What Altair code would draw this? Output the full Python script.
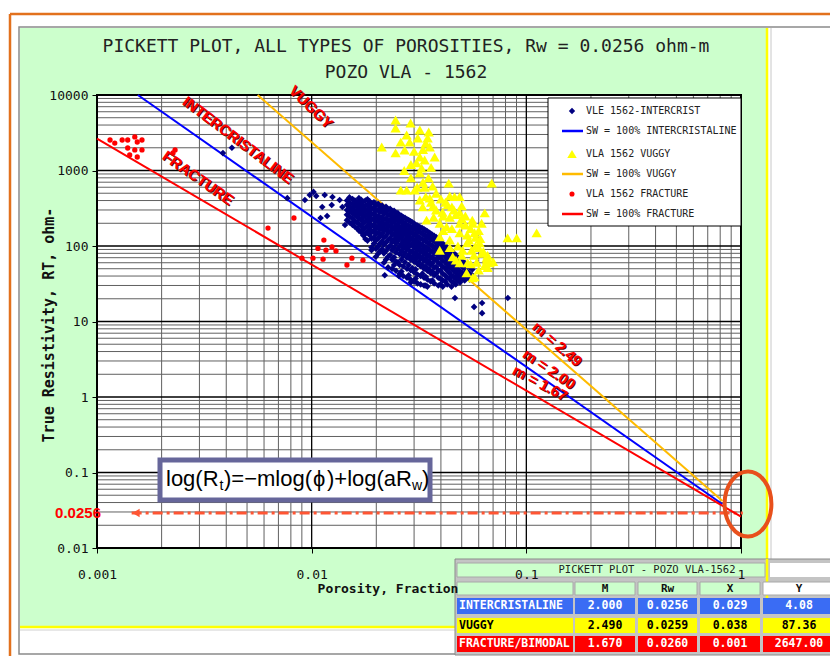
import altair as alt
import pandas as pd

# ---------------- texts ----------------
TITLE_1 = "PICKETT PLOT, ALL TYPES OF POROSITIES, Rw = 0.0256 ohm-m"
TITLE_2 = "POZO VLA - 1562"
X_TITLE = "Porosity, Fraction"
Y_TITLE = "True Resistivity, RT, ohm-"

# ---------------- axes / grid ----------------
x_ticks = [0.001, 0.01, 0.1, 1]
y_ticks = [0.01, 0.1, 1, 10, 100, 1000, 10000]
minor_mult = [2, 3, 4, 5, 6, 7, 8, 9]

# ---------------- Sw = 100% lines (end points) ----------------
intercrist_line_phi = [0.00155, 0.82]
intercrist_line_rt = [10000, 0.038]
vuggy_line_phi = [0.0056, 0.82]
vuggy_line_rt = [10000, 0.042]
fracture_line_phi = [0.001, 1.0]
fracture_line_rt = [2650, 0.026]
rw_line_phi = [0.00145, 1.02]
rw_line_rt = [0.029, 0.029]

# ---------------- VLE 1562-INTERCRIST (porosity column -> Rt values) ----------------
navy_columns = {
    0.0146: [400, 350, 300, 260, 220],
    0.0155: [420, 360, 310, 270, 230, 190],
    0.0163: [380, 330, 285, 245, 205, 170],
    0.0170: [410, 350, 300, 262, 222, 182, 152],
    0.0178: [400, 342, 292, 250, 212, 176, 146, 124],
    0.0186: [392, 333, 282, 240, 202, 166, 140],
    0.0195: [380, 322, 272, 232, 192, 160, 131, 108],
    0.0204: [362, 302, 252, 212, 181, 151, 126, 99, 79],
    0.0213: [342, 291, 242, 206, 176, 146, 116, 91],
    0.0222: [331, 281, 231, 196, 166, 136, 111, 86, 66],
    0.0232: [311, 262, 221, 186, 156, 126, 101, 76],
    0.0242: [292, 246, 211, 176, 146, 121, 96, 71, 56],
    0.0252: [272, 231, 196, 166, 141, 116, 91, 61],
    0.0262: [251, 216, 181, 156, 131, 106, 86, 66, 46],
    0.0272: [236, 201, 171, 146, 121, 101, 81, 61],
    0.0283: [221, 186, 161, 136, 116, 96, 76, 56, 41],
    0.0294: [206, 176, 151, 126, 106, 86, 71, 51],
    0.0305: [191, 166, 141, 119, 99, 81, 66, 49, 37],
    0.0316: [181, 156, 131, 111, 93, 76, 61],
    0.0328: [171, 146, 123, 104, 87, 71, 56, 43],
    0.0340: [161, 136, 116, 97, 81, 67, 53, 39],
    0.0352: [151, 129, 109, 91, 76, 63, 49],
    0.0365: [141, 121, 101, 86, 71, 59, 46, 35],
    0.0380: [131, 111, 93, 79, 66, 53, 43],
    0.0398: [116, 99, 83, 69, 57, 47, 37, 31],
    0.0418: [101, 86, 73, 61, 51, 41, 34],
    0.0438: [91, 76, 64, 53, 44, 37],
    0.0458: [81, 67, 56, 47, 39, 33],
    0.0480: [71, 59, 49, 41, 35],
    0.0503: [63, 53, 44, 37],
    0.0530: [56, 46, 39],
    0.0560: [49, 41],
}
navy_columns_b = {
    0.0150: [440, 380, 330, 285, 245, 205],
    0.0159: [400, 345, 295, 255, 215, 180],
    0.0166: [430, 370, 315, 272, 232, 195, 160],
    0.0174: [385, 325, 280, 240, 200, 165, 138],
    0.0182: [415, 355, 305, 262, 222, 186, 155, 118],
    0.0190: [365, 310, 262, 222, 182, 152, 125, 96],
    0.0199: [350, 295, 250, 212, 175, 145, 118, 92, 72],
    0.0208: [330, 280, 232, 196, 166, 136, 108, 85],
    0.0217: [315, 268, 225, 190, 160, 130, 104, 80, 60],
    0.0227: [300, 255, 212, 180, 150, 120, 95, 72, 52],
    0.0237: [285, 240, 202, 170, 140, 112, 88, 66, 50],
    0.0247: [268, 226, 190, 160, 132, 108, 82, 62, 47],
    0.0257: [255, 212, 178, 150, 125, 100, 78, 56, 43],
    0.0267: [240, 198, 166, 140, 116, 94, 74, 54, 40],
    0.0278: [225, 188, 158, 132, 110, 90, 70, 50, 38],
    0.0289: [212, 178, 148, 124, 103, 84, 66, 48, 36],
    0.0300: [198, 168, 140, 116, 96, 78, 62, 45, 34],
    0.0311: [186, 158, 132, 108, 90, 73, 58, 42, 32],
    0.0322: [176, 150, 125, 102, 84, 68, 54, 40, 31],
    0.0334: [166, 140, 118, 96, 79, 64, 50, 38, 30],
    0.0346: [156, 132, 111, 91, 74, 60, 47, 36, 29],
    0.0358: [146, 124, 104, 86, 70, 56, 44, 34],
    0.0372: [136, 116, 97, 80, 66, 52, 41, 32],
    0.0389: [124, 105, 88, 73, 60, 48, 38, 30],
    0.0408: [108, 92, 77, 64, 53, 43, 35, 29],
    0.0428: [96, 81, 68, 57, 47, 38, 31],
    0.0448: [86, 72, 60, 50, 41, 34, 29],
    0.0469: [76, 63, 52, 44, 37, 31],
    0.0491: [66, 56, 46, 39, 33],
    0.0516: [60, 50, 42, 35],
    0.0545: [52, 43, 36],
}
navy_extra_phi = [0.00386, 0.00425, 0.0077, 0.0093, 0.0098, 0.0102, 0.0105, 0.0115,
                  0.0125, 0.0124, 0.0112, 0.0118, 0.0110, 0.0135, 0.0139, 0.0154,
                  0.0143, 0.0155, 0.0190, 0.0219, 0.0465, 0.0571, 0.0622, 0.0622,
                  0.0820, 0.0255, 0.0290, 0.0340]
navy_extra_rt = [1700, 2000, 430, 406, 473, 520, 460, 473,
                 446, 349, 329, 250, 235, 406, 329, 282,
                 190, 202, 88, 41, 20.5, 15.6, 17.6, 12.9,
                 20.5, 40, 33, 30]

# ---------------- VLA 1562 VUGGY ----------------
vuggy_phi = [0.0246, 0.0289, 0.0319, 0.0351, 0.0246, 0.0277, 0.0260, 0.0286, 0.0312, 0.0347,
             0.0212, 0.0246, 0.0271, 0.0355, 0.0374, 0.0319, 0.0336, 0.0308, 0.0325, 0.0319,
             0.0435, 0.0690, 0.0260, 0.0277, 0.0302, 0.0336, 0.0366, 0.0440, 0.0463, 0.0489,
             0.0319, 0.0355, 0.0329, 0.0366, 0.0407, 0.0440, 0.0489, 0.0640, 0.0562, 0.0619,
             0.0343, 0.0395, 0.0425, 0.0489, 0.0574, 0.0818, 0.0902, 0.1117, 0.0606, 0.0395,
             0.0440, 0.0395, 0.0454, 0.0505, 0.0556, 0.0654, 0.0489, 0.0533, 0.0587, 0.0675,
             0.0527, 0.0574, 0.0562, 0.0654, 0.0350, 0.0330, 0.0380, 0.0420, 0.0450, 0.0470,
             0.0500, 0.0520, 0.0550, 0.0580, 0.0600, 0.0620, 0.0480, 0.0530, 0.0570, 0.0640,
             0.0470, 0.0410, 0.0370, 0.0500, 0.0300, 0.0290, 0.0330, 0.0340, 0.0360,
             0.0400, 0.0430, 0.0460, 0.0520, 0.0560, 0.0600, 0.0540, 0.0580, 0.0630, 0.0660,
             0.0450, 0.0490, 0.0530, 0.0610, 0.0380, 0.0360, 0.0340, 0.0310, 0.0290, 0.0270,
             0.0410, 0.0440, 0.0500, 0.0550, 0.0600, 0.0660, 0.0700]
vuggy_rt = [4670, 4260, 3440, 3240, 3650, 2950, 2380, 2380, 2690, 2690,
            2050, 1710, 1870, 2050, 1510, 1510, 1380, 1260, 1080, 930,
            680, 680, 550, 550, 550, 600, 620, 460, 450, 450,
            406, 430, 330, 330, 280, 240, 280, 275, 200, 200,
            220, 200, 180, 150, 150, 128, 128, 149, 110, 132,
            120, 88, 72, 88, 88, 70, 60, 60, 61, 60,
            44, 39, 38, 65, 800, 700, 500, 380, 330, 260,
            230, 190, 170, 130, 95, 80, 100, 110, 75, 55,
            65, 160, 240, 340, 1800, 1200, 1900, 2300, 1100,
            420, 350, 300, 250, 220, 160, 120, 100, 85, 75,
            170, 200, 140, 125, 300, 380, 450, 600, 800, 1000,
            250, 95, 75, 58, 48, 52, 62]

# ---------------- VLA 1562 FRACTURE ----------------
fracture_phi = [0.00115, 0.00121, 0.00131, 0.00139, 0.00150, 0.00162, 0.00154, 0.00139, 0.00150,
                0.00162, 0.00142, 0.00154, 0.00231, 0.00226, 0.00827, 0.00626, 0.0114, 0.0107,
                0.01166, 0.01243, 0.01298, 0.00901, 0.01014, 0.0113, 0.0146, 0.0154, 0.01734]
fracture_rt = [2535, 2310, 2535, 2535, 2780, 2535, 2385, 1985, 1870,
               1870, 1604, 1510, 1870, 1706, 235, 173, 120, 93,
               88, 97, 86, 69, 69, 67, 56, 69, 65]

# ---------------- legend & table ----------------
legend_labels = ["VLE 1562-INTERCRIST", "SW = 100% INTERCRISTALINE", "VLA 1562 VUGGY",
                 "SW = 100% VUGGY", "VLA 1562 FRACTURE", "SW = 100% FRACTURE"]
table_title = "PICKETT PLOT - POZO VLA-1562"
table_header = ["", "M", "Rw", "X", "Y"]
table_rows = ["INTERCRISTALINE", "VUGGY", "FRACTURE/BIMODAL"]
table_m = [2.000, 2.490, 1.670]
table_rw = [0.0256, 0.0259, 0.0260]
table_x = [0.029, 0.038, 0.001]
table_y = [4.08, 87.36, 2647.00]

# ================= chart =================
OX, OY = 97, 95          # page position of plot-area origin
W, H = 644, 453
one = pd.DataFrame({"k": [0]})

MONO = "DejaVu Sans Mono"
SANS = "Liberation Sans"

xs = alt.Scale(type="log", domain=[0.001, 1], nice=False)
ys = alt.Scale(type="log", domain=[0.01, 10000], nice=False)
xaxis = alt.Axis(values=x_ticks, labelExpr="format(datum.value, datum.value >= 1 ? 'd' : '~g')",
                 title=None, grid=False, domain=False, ticks=True, tickSize=5, tickColor="#000",
                 labelFont=MONO, labelFontSize=13, labelColor="#111", labelPadding=15,
                 labelFlush=False, labelOverlap=False, zindex=1)
yaxis = alt.Axis(values=y_ticks, labelExpr="format(datum.value, datum.value >= 1 ? 'd' : '~g')",
                 title=None, grid=False, domain=False, ticks=True, tickSize=5, tickColor="#000",
                 labelFont=MONO, labelFontSize=13, labelColor="#111", labelPadding=4,
                 labelFlush=False, labelOverlap=False, zindex=1)


def hline(x1, x2, y, color, w):
    return alt.Chart(one).mark_rule(color=color, strokeWidth=w).encode(
        x=alt.value(x1 - OX), x2=alt.value(x2 - OX), y=alt.value(y - OY))


def vline(x, y1, y2, color, w):
    return alt.Chart(one).mark_rule(color=color, strokeWidth=w).encode(
        x=alt.value(x - OX), y=alt.value(y1 - OY), y2=alt.value(y2 - OY))


def box(x1, y1, x2, y2, fill=None, stroke=None, sw=1):
    kw = {}
    if fill:
        kw["fill"] = fill
    else:
        kw["fillOpacity"] = 0
    if stroke:
        kw["stroke"] = stroke
        kw["strokeWidth"] = sw
    return alt.Chart(one).mark_rect(**kw).encode(
        x=alt.value(x1 - OX), x2=alt.value(x2 - OX), y=alt.value(y1 - OY), y2=alt.value(y2 - OY))


def label(s, x, y, size, color="#000", font=MONO, weight="normal", align="center", angle=0):
    return alt.Chart(one).mark_text(text=s, fontSize=size, color=color, font=font, fontWeight=weight,
                                    align=align, baseline="middle", angle=angle).encode(
        x=alt.value(x - OX), y=alt.value(y - OY))


def symbol(shape, x, y, size, color, filled=True, sw=1):
    return alt.Chart(one).mark_point(shape=shape, size=size, filled=filled, color=color, opacity=1,
                                     strokeWidth=sw).encode(x=alt.value(x - OX), y=alt.value(y - OY))


layers = []
# page frame
layers += [box(19, 27, 850, 654, fill="#ffffff", stroke="#8a8a8a", sw=1.5),
           box(20, 28, 766, 626, fill="#ccffcc"),
           vline(767, 28, 628, "#ffff00", 2.5), hline(20, 767, 627, "#ffff00", 2.5),
           vline(771, 28, 654, "#c8c8c8", 1), hline(20, 771, 630, "#d0d0d0", 1),
           hline(10, 840, 14, "#e2711d", 2.5), vline(10, 14, 670, "#e2711d", 2.5),
           box(OX, OY, OX + W, OY + H, fill="#ffffff")]

# grid
minor_x = [m * d for d in x_ticks[:-1] for m in minor_mult]
minor_y = [m * d for d in y_ticks[:-1] for m in minor_mult]
layers.append(alt.Chart(pd.DataFrame({"phi": minor_x})).mark_rule(color="#606060", strokeWidth=1).encode(
    x=alt.X("phi:Q", scale=xs, axis=xaxis)))
layers.append(alt.Chart(pd.DataFrame({"rt": minor_y})).mark_rule(color="#606060", strokeWidth=1).encode(
    y=alt.Y("rt:Q", scale=ys, axis=yaxis)))
layers.append(alt.Chart(pd.DataFrame({"phi": x_ticks})).mark_rule(color="#000", strokeWidth=1.3).encode(
    x=alt.X("phi:Q", scale=xs, axis=xaxis)))
layers.append(alt.Chart(pd.DataFrame({"rt": y_ticks})).mark_rule(color="#000", strokeWidth=1.3).encode(
    y=alt.Y("rt:Q", scale=ys, axis=yaxis)))
layers.append(box(OX, OY, OX + W, OY + H, stroke="#000", sw=2))


def enc(chart):
    return chart.encode(x=alt.X("phi:Q", scale=xs, axis=xaxis), y=alt.Y("rt:Q", scale=ys, axis=yaxis))


# Sw lines
layers.append(enc(alt.Chart(pd.DataFrame({"phi": rw_line_phi, "rt": rw_line_rt})).mark_line(
    color="#ff5533", strokeWidth=3, strokeDash=[10, 4, 3, 4])))
layers.append(enc(alt.Chart(pd.DataFrame({"phi": vuggy_line_phi, "rt": vuggy_line_rt})).mark_line(
    color="#ffbb00", strokeWidth=2)))
layers.append(enc(alt.Chart(pd.DataFrame({"phi": intercrist_line_phi, "rt": intercrist_line_rt})).mark_line(
    color="#0000ff", strokeWidth=2)))
layers.append(enc(alt.Chart(pd.DataFrame({"phi": fracture_line_phi, "rt": fracture_line_rt})).mark_line(
    color="#ff0000", strokeWidth=2)))

# scatter
navy_phi = ([p for p, rts in navy_columns.items() for _ in rts]
            + [p for p, rts in navy_columns_b.items() for _ in rts] + navy_extra_phi)
navy_rt = ([r for rts in navy_columns.values() for r in rts]
           + [r for rts in navy_columns_b.values() for r in rts] + navy_extra_rt)
layers.append(enc(alt.Chart(pd.DataFrame({"phi": navy_phi, "rt": navy_rt})).mark_point(
    shape="diamond", size=44, filled=True, color="#000080", opacity=1)))
layers.append(enc(alt.Chart(pd.DataFrame({"phi": vuggy_phi, "rt": vuggy_rt})).mark_point(
    shape="triangle-up", size=105, filled=True, color="#ffff00", opacity=1)))
layers.append(enc(alt.Chart(pd.DataFrame({"phi": fracture_phi, "rt": fracture_rt})).mark_point(
    shape="circle", size=28, filled=True, color="#ff0000", opacity=1)))

# labels along lines (red with dark shadow)
for s, x, y, a in [("INTERCRISTALINE", 238, 140, 37), ("VUGGY", 311, 107, 44), ("FRACTURE", 198, 178, 35),
                   ("m = 2.49", 557, 344, 41), ("m = 2.00", 549, 369, 34), ("m = 1.67", 540, 383, 28)]:
    layers.append(label(s, x + 1, y + 1, 15, color="#600000", font=SANS, weight="bold", angle=a))
    layers.append(label(s, x, y, 15, color="#ff0000", font=SANS, weight="bold", angle=a))

# legend
leg_y = [111, 131, 154, 174, 194, 214]
layers.append(box(548, 98, 741, 226, fill="#ffffff", stroke="#000", sw=1))
layers.append(symbol("diamond", 572, leg_y[0], 40, "#000080"))
layers.append(hline(562, 583, leg_y[1], "#0000ff", 2.5))
layers.append(symbol("triangle-up", 572, leg_y[2], 90, "#ffff00"))
layers.append(hline(562, 583, leg_y[3], "#ffbb00", 2.5))
layers.append(symbol("circle", 572, leg_y[4], 26, "#ff0000"))
layers.append(hline(562, 583, leg_y[5], "#ff0000", 2.5))
for s, y in zip(legend_labels, leg_y):
    layers.append(label(s, 586, y, 10, color="#222", align="left"))

# equation box
layers.append(box(160, 460, 430, 500, fill="#ffffff", stroke="#66669a", sw=5))
for s, x, y, sz in [("log(R", 166, 479, 22), ("t", 219.5, 486, 14), (")=\u2212mlog(", 224, 479, 22),
                    ("\u03d5", 313, 479, 22), (")+log(aR", 327, 479, 22), ("w", 412, 486, 14),
                    (")", 422, 479, 22)]:
    layers.append(label(s, x, y, sz, color="#000", font=SANS, align="left"))

# Rw marker: arrow, label, ellipse
layers.append(symbol("triangle-left", 136, 513, 70, "#ff5533"))
layers.append(label("0.0256", 101, 513, 15, color="#ff0000", font=SANS, weight="bold", align="right"))
layers.append(symbol("M-0.72,0A0.72,1,0,1,1,0.72,0A0.72,1,0,1,1,-0.72,0Z", 748, 504, 4225,
                     "#e8501c", filled=False, sw=4))

# table
col_x = [(457, 573), (575, 635), (638, 697), (700, 760), (763, 835)]
row_y = [(598, 614), (618, 633), (636, 652)]
row_fill = ["#3a6cf4", "#ffff00", "#ff0000"]
row_text = ["#ffffff", "#000000", "#ffffff"]
layers.append(box(455, 559, 850, 655, fill="#c4c4c4", stroke="#8a8a8a", sw=1))
layers.append(box(457, 563, 765, 577, fill="#ccffcc", stroke="#a8a8a8", sw=1))
layers.append(box(770, 563, 850, 577, fill="#ffffff"))
layers.append(vline(767, 559, 598, "#ffff00", 2.5))
layers.append(label(table_title, 647, 570, 10.5, color="#222"))
for j, (x1, x2) in enumerate(col_x):
    layers.append(box(x1, 582, x2, 595, fill="#ccffcc" if j < 4 else "#ffffff", stroke="#a8a8a8", sw=1))
    if table_header[j]:
        layers.append(label(table_header[j], (x1 + x2) / 2, 589, 11, color="#111", weight="bold"))
cells = [table_rows,
         ["%.3f" % v for v in table_m],
         ["%.4f" % v for v in table_rw],
         ["%.3f" % v for v in table_x],
         ["%.2f" % v for v in table_y]]
for i, (y1, y2) in enumerate(row_y):
    for j, (x1, x2) in enumerate(col_x):
        layers.append(box(x1, y1, x2, y2, fill=row_fill[i]))
        if j == 0:
            layers.append(label(cells[j][i], x1 + 2, (y1 + y2) / 2, 11.5, color=row_text[i], weight="bold",
                                align="left"))
        else:
            layers.append(label(cells[j][i], (x1 + x2) / 2, (y1 + y2) / 2, 11.5, color=row_text[i],
                                weight="bold"))

# titles
layers.append(label(TITLE_1, 406, 47, 18, color="#222"))
layers.append(label(TITLE_2, 406, 73, 18, color="#222"))
layers.append(label(X_TITLE, 388, 589, 13, color="#111", weight="bold"))
layers.append(label(Y_TITLE, 49, 325, 15, color="#111", weight="bold", angle=270))

chart = alt.layer(*layers).properties(
    width=W, height=H,
    padding={"left": OX - 8, "top": OY - 8, "right": 89, "bottom": 108},
    autosize=alt.AutoSizeParams(type="none"),
    background="#ffffff",
).configure_view(strokeWidth=0)

chart.save("out.html", embed_options={"renderer": "svg", "actions": False})
